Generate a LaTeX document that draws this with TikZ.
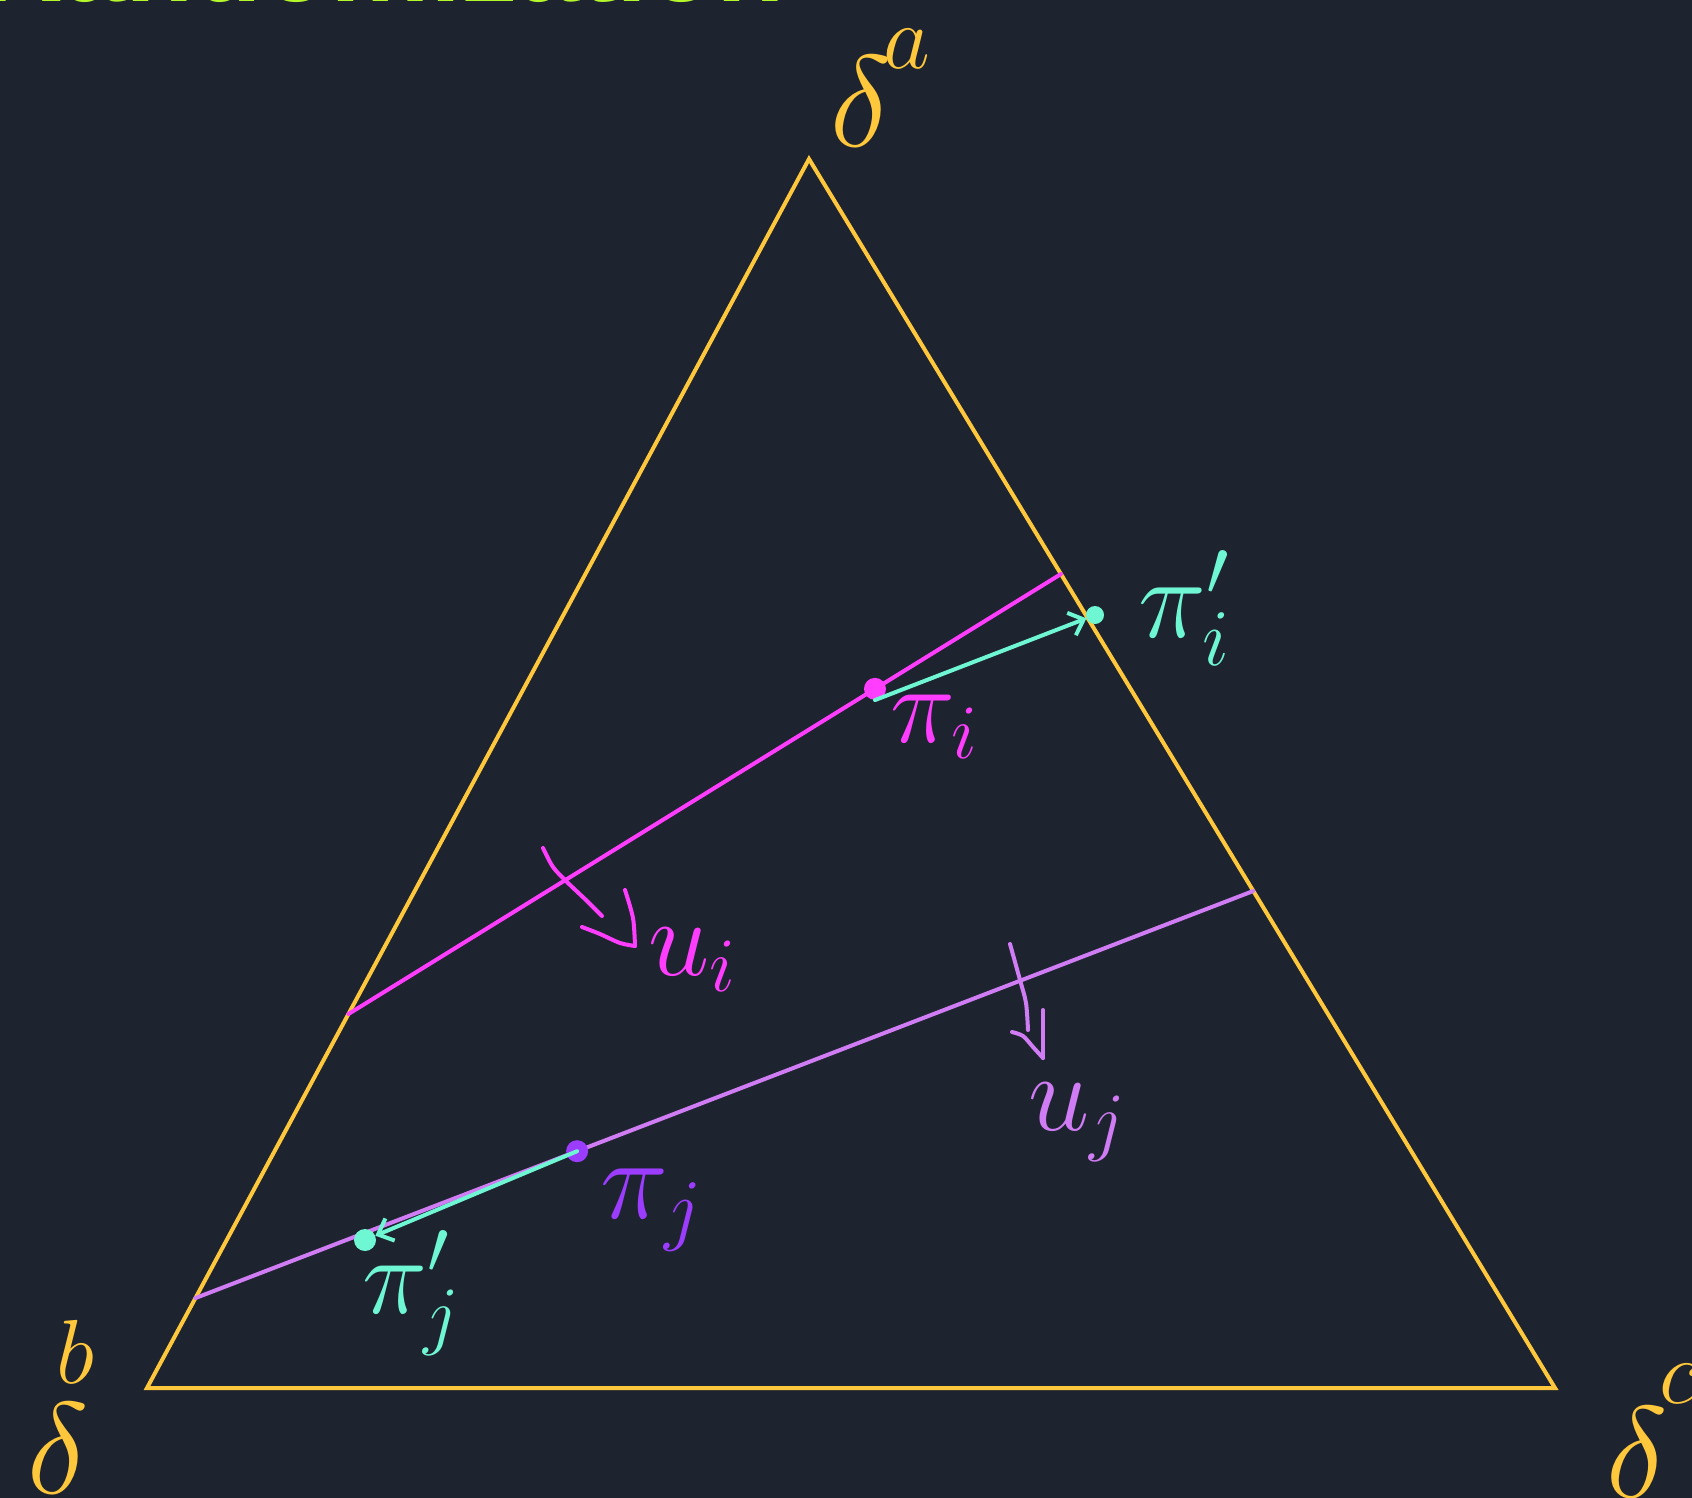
\RequirePackage{fix-cm}
\documentclass[tikz,border=0pt]{standalone}
\usepackage{fontspec}
\newfontfamily\titlefont{Liberation Sans}
\usetikzlibrary{arrows.meta,calc}
\definecolor{bg}{HTML}{1E2330}
\definecolor{yellowc}{HTML}{FFC83C}
\definecolor{magentac}{HTML}{FF3DFF}
\definecolor{cyanc}{HTML}{6FF7D3}
\definecolor{violetc}{HTML}{D07CF4}
\definecolor{purplec}{HTML}{9B3CFF}
\definecolor{titlegreen}{HTML}{B4F82A}
\newcommand\dlabel[3]{$\delta\kern#2\raisebox{#1}{$\scriptstyle #3$}$}
\begin{document}
\begin{tikzpicture}[x=1pt,y=-1pt,
  edge/.style={line width=4pt, line cap=round},
  ink/.style={line width=4pt, line cap=round, line join=round},
  dot/.style={circle, inner sep=0pt, minimum size=#1},
  lbl/.style={inner sep=0pt, anchor=base west},
  hand/.style={font=\fontsize{#1}{#1}\selectfont},
  arr/.style={edge, -{Straight Barb[length=13pt,width=24pt]}}
]
\fill[bg] (0,0) rectangle (1692,1498);
\useasboundingbox (0,0) rectangle (1692,1498);
\clip (0,0) rectangle (1692,1498);
% title (cut off at top)
\node[inner sep=0pt, anchor=base east, text=titlegreen, font=\titlefont\bfseries\fontsize{112}{120}\selectfont] (title) at (785,2) {Randomization};
% triangle
\coordinate (A) at (809,159);
\coordinate (B) at (147,1388);
\coordinate (C) at (1555,1388);
\draw[line width=4pt, yellowc] (A) -- (B) -- (C) -- cycle;
% vertex labels
\node[lbl, text=yellowc, hand=130] (da) at (830,147) {\dlabel{78pt}{-8pt}{a}};
\node[lbl, text=yellowc, hand=130] (db) at (27,1493) {\dlabel{110pt}{-32pt}{b}};
\node[lbl, text=yellowc, hand=130] (dc) at (1606,1497) {\dlabel{94pt}{-8pt}{c}};
% lines
\coordinate (mL) at ($(A)!0.6957!(B)$);
\coordinate (mR) at ($(A)!0.3377!(C)$);
\coordinate (vL) at ($(A)!0.9268!(B)$);
\coordinate (vR) at ($(A)!0.5956!(C)$);
\draw[edge, magentac] (mL) -- (mR);
\draw[edge, violetc] (vL) -- (vR);
% dots and arrows
\node[dot=22pt, fill=magentac] (pii) at ($(mL)!0.739!(mR)$) {};
\node[dot=18pt, fill=cyanc] (piip) at (1095,615) {};
\draw[arr, cyanc] (pii.south) -- (piip);
\node[dot=22pt, fill=purplec] (pij) at ($(vL)!0.3608!(vR)$) {};
\node[dot=22pt, fill=cyanc] (pijp) at (365,1240) {};
\draw[arr, cyanc] (pij.center) -- (pijp);
% labels
\node[lbl, text=magentac, hand=110] (lpii) at (890,742) {$\pi_i$};
\node[lbl, text=cyanc, hand=115] (lpiip) at (1138,637) {$\pi'_i$};
\node[lbl, text=purplec, hand=115] (lpij) at (600,1218) {$\pi_j$};
\node[lbl, text=cyanc, hand=110] (lpijp) at (362,1313) {$\pi'_j$};
\node[lbl, text=magentac, hand=110] (lui) at (648,975) {$u_i$};
\node[lbl, text=violetc, hand=110] (luj) at (1028,1130) {$u_j$};
% tick arrows
\draw[ink, magentac] plot[smooth] coordinates {(543,848) (553,867) (567,882) (587,901) (602,916)};
\draw[ink, magentac] plot[smooth] coordinates {(582,927) (600,934) (620,943) (635,946)};
\draw[ink, magentac] plot[smooth] coordinates {(635,946) (633,918) (625,890)};
\draw[ink, violetc] plot[smooth] coordinates {(1010,944) (1020,980) (1026,1003) (1028,1030)};
\draw[ink, violetc] plot[smooth] coordinates {(1012,1032) (1023,1036) (1033,1047) (1043,1058)};
\draw[ink, violetc] (1043,1058) -- (1043,1010);
\end{tikzpicture}
\end{document}
